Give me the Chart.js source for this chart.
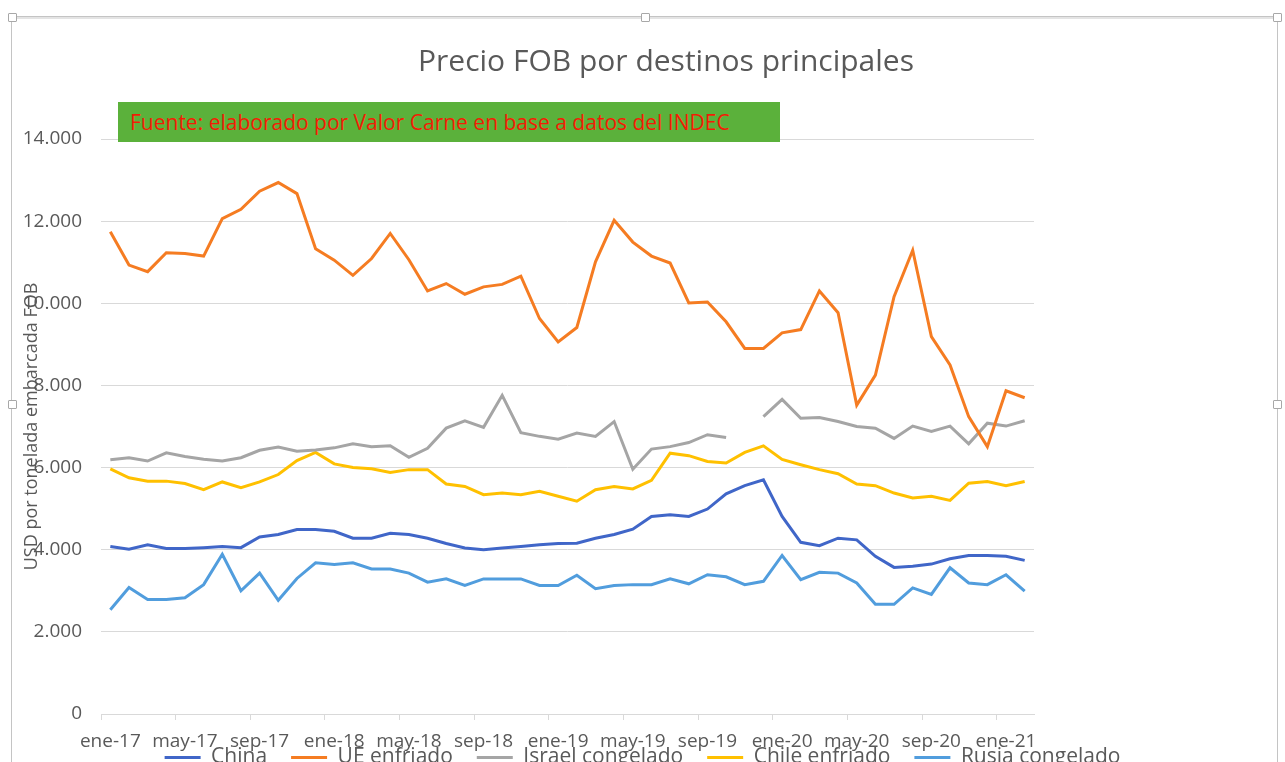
<!DOCTYPE html>
<html>
<head>
<meta charset="utf-8">
<script src="https://cdn.jsdelivr.net/npm/chart.js@4.4.1/dist/chart.umd.min.js"></script>
<style>
  html, body { margin: 0; padding: 0; background: #fff; overflow: hidden; }
  #wrap { position: relative; width: 1285px; height: 762px; overflow: hidden; }
  #chart { position: absolute; left: 0; top: 0; }
  .frame { position: absolute; left: 11px; top: 16px; width: 1265px; height: 760px;
    border: 1px solid #c4c4c4; border-bottom: none; box-shadow: inset 0 2px 0 #e4e4e4; }
  .handle { position: absolute; width: 7px; height: 7px; background: #fff; border: 1px solid #a8a8a8; border-radius: 1px; }
  #titulo { position: absolute; left: 316px; width: 700px; top: 40px; text-align: center;
    font-family: "Open Sans", sans-serif; font-size: 30px; color: #595959; line-height: 40px; }
  #fuente { position: absolute; left: 118px; top: 102px; width: 662px; height: 40px; background: #5bb13b;
    font-family: "Open Sans", sans-serif; font-size: 21px; color: #f41c05; line-height: 40px;
    box-sizing: border-box; padding-left: 12px; white-space: nowrap; }
</style>
</head>
<body>
<div id="wrap">
  <canvas id="chart" width="1285" height="822" style="width:1285px;height:822px"></canvas>
  <div class="frame"></div>
  <div class="handle" style="left:8px;top:13px"></div>
  <div class="handle" style="left:641px;top:13px"></div>
  <div class="handle" style="left:1273px;top:13px"></div>
  <div class="handle" style="left:8px;top:400px"></div>
  <div class="handle" style="left:1273px;top:400px"></div>
  <div id="titulo">Precio FOB por destinos principales</div>
  <div id="fuente">Fuente: elaborado por Valor Carne en base a datos del INDEC</div>
</div>
<script>
  var meses = [
    "ene-17","feb-17","mar-17","abr-17","may-17","jun-17","jul-17","ago-17","sep-17","oct-17","nov-17","dic-17",
    "ene-18","feb-18","mar-18","abr-18","may-18","jun-18","jul-18","ago-18","sep-18","oct-18","nov-18","dic-18",
    "ene-19","feb-19","mar-19","abr-19","may-19","jun-19","jul-19","ago-19","sep-19","oct-19","nov-19","dic-19",
    "ene-20","feb-20","mar-20","abr-20","may-20","jun-20","jul-20","ago-20","sep-20","oct-20","nov-20","dic-20",
    "ene-21","feb-21"
  ];

  var china = [4080,4010,4120,4030,4030,4050,4080,4050,4310,4370,4490,4490,4450,
    4280,4280,4400,4370,4280,4150,4040,4000,4040,4080,4120,4150,4160,
    4280,4370,4500,4810,4850,4810,4990,5360,5560,5700,4810,4180,4100,
    4280,4240,3840,3570,3600,3650,3780,3860,3860,3840,3740];

  var ueEnfriado = [11740,10930,10770,11230,11210,11150,12060,12290,12730,12940,12670,11330,11050,
    10680,11090,11700,11060,10300,10480,10220,10400,10460,10660,9630,9060,9410,
    11010,12020,11490,11150,10980,10010,10030,9550,8900,8900,9280,9360,10300,
    9770,7520,8250,10160,11290,9190,8500,7240,6510,7870,7700];

  var israelCongelado = [6190,6240,6160,6360,6270,6200,6160,6240,6420,6500,6400,6430,6480,
    6580,6510,6530,6250,6470,6960,7140,6980,7760,6850,6760,6690,6840,
    6760,7120,5960,6450,6510,6610,6800,6730,null,7240,7660,7200,7220,
    7120,7000,6960,6710,7010,6880,7010,6580,7080,7010,7140];

  var chileEnfriado = [5970,5750,5670,5670,5610,5460,5650,5510,5650,5830,6170,6370,6090,
    6000,5970,5880,5950,5950,5600,5540,5340,5380,5340,5420,5300,5180,
    5460,5540,5480,5690,6350,6290,6150,6110,6370,6530,6200,6070,5950,
    5850,5600,5560,5380,5260,5300,5200,5620,5660,5560,5660];

  var rusiaCongelado = [2540,3080,2790,2790,2830,3150,3890,3000,3430,2770,3300,3680,3640,
    3680,3530,3530,3430,3210,3290,3130,3290,3290,3290,3130,3130,3380,
    3050,3130,3150,3150,3290,3170,3390,3340,3150,3230,3860,3270,3450,
    3430,3190,2670,2670,3070,2910,3560,3190,3150,3390,2990];

  var gris = "#595959";
  var grilla = "#d9d9d9";

  function serie(nombre, datos, color) {
    return {
      label: nombre,
      data: datos,
      borderColor: color,
      backgroundColor: color,
      borderWidth: 3,
      pointRadius: 0,
      tension: 0,
      spanGaps: false
    };
  }

  function miles(v) {
    return String(v).replace(/\B(?=(\d{3})+(?!\d))/g, ".");
  }

  // la leyenda de Excel queda pegada a las etiquetas del eje x
  var subirLeyenda = {
    id: "subirLeyenda",
    afterLayout: function(chart) {
      if (chart.legend) {
        chart.legend.top -= 31;
        chart.legend.bottom -= 31;
      }
    }
  };

  var ctx = document.getElementById("chart").getContext("2d");
  var chart = new Chart(ctx, {
    type: "line",
    data: {
      labels: meses,
      datasets: [
        serie("China", china, "#4066c8"),
        serie("UE enfriado", ueEnfriado, "#f57c22"),
        serie("Israel congelado", israelCongelado, "#a5a5a5"),
        serie("Chile enfriado", chileEnfriado, "#ffc000"),
        serie("Rusia congelado", rusiaCongelado, "#519ddd")
      ]
    },
    plugins: [subirLeyenda],
    options: {
      responsive: false,
      animation: false,
      events: [],
      layout: { padding: { top: 139, left: 0, right: 0, bottom: 13 } },
      plugins: {
        title: { display: false },
        tooltip: { enabled: false },
        legend: {
          position: "bottom",
          labels: {
            color: gris,
            font: { family: "Open Sans", size: 21 },
            usePointStyle: true,
            pointStyle: "line",
            pointStyleWidth: 36,
            padding: 24
          }
        }
      },
      scales: {
        x: {
          offset: true,
          grid: {
            offset: true,
            drawOnChartArea: false,
            drawTicks: true,
            tickLength: 6,
            color: function(c) { return c.index % 4 === 0 ? grilla : "rgba(0,0,0,0)"; }
          },
          border: { display: true, color: grilla },
          ticks: {
            autoSkip: false,
            maxRotation: 0,
            padding: 10,
            color: gris,
            font: { family: "Open Sans", size: 19 },
            callback: function(v, i) { return i % 4 === 0 ? meses[i] : ""; }
          },
          afterFit: function(s) { s.height = 40; }
        },
        y: {
          min: 0,
          max: 14000,
          grid: { color: grilla, drawTicks: false },
          border: { display: false },
          ticks: {
            stepSize: 2000,
            padding: 19,
            color: gris,
            font: { family: "Open Sans", size: 19 },
            callback: function(v) { return miles(v); }
          },
          title: {
            display: true,
            text: "USD por tonelada embarcada FOB",
            color: gris,
            font: { family: "Open Sans", size: 18 },
            padding: { top: 21, bottom: 0 }
          },
          afterFit: function(s) { s.width = 101; }
        },
        derecha: {
          type: "linear",
          position: "right",
          grid: { display: false },
          border: { display: false },
          ticks: { display: false },
          afterFit: function(s) { s.width = 251; }
        }
      }
    }
  });
</script>
</body>
</html>
